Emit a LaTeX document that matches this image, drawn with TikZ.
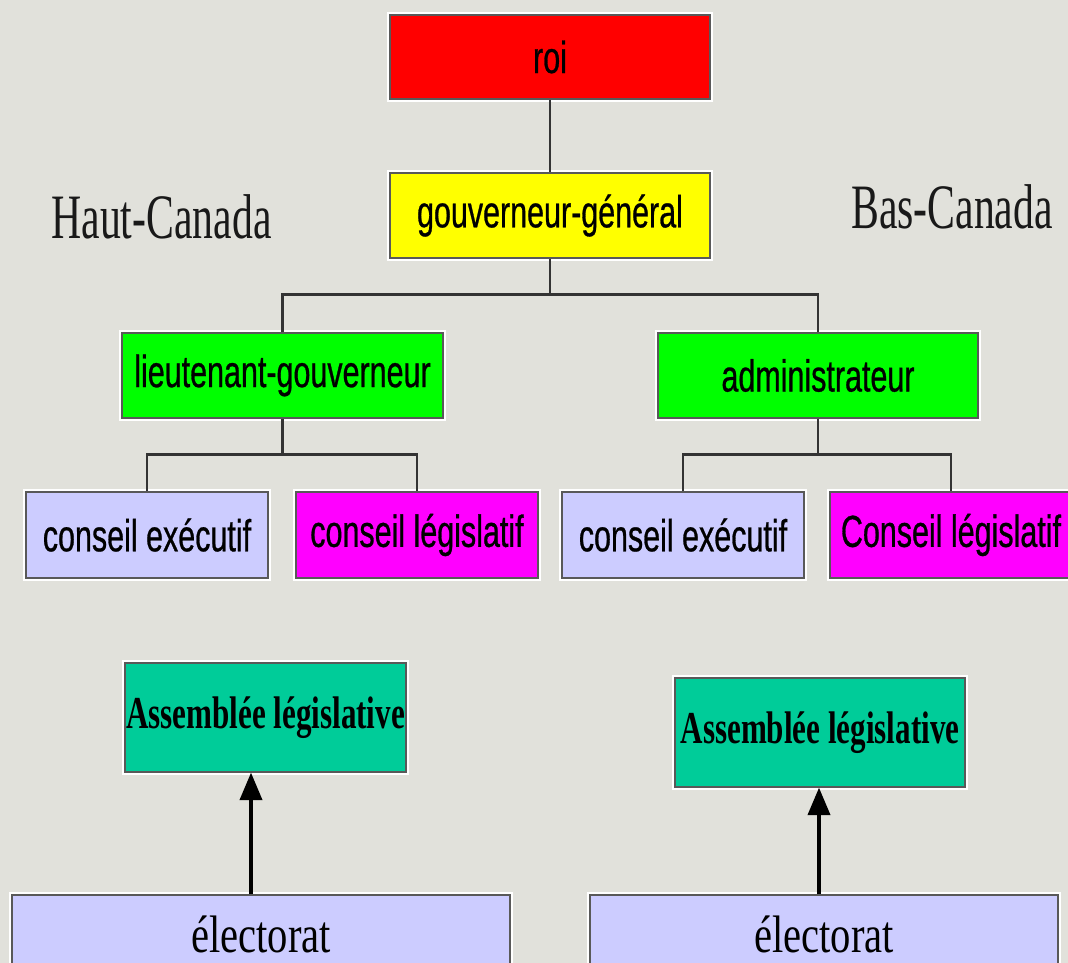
\documentclass[tikz,border=0pt]{standalone}
\usepackage{fontspec}
\usetikzlibrary{arrows.meta}
\newfontfamily\boxfont[FakeStretch=0.68, FakeBold=0.6]{Liberation Sans}
\newfontfamily\regionfont[FakeStretch=0.66]{Liberation Serif}
\newfontfamily\assfont[FakeStretch=0.68]{Liberation Serif}
\newfontfamily\elecfont[FakeStretch=0.77]{Liberation Serif}
\definecolor{bgcol}{RGB}{225,225,219}
\definecolor{roired}{RGB}{255,0,0}
\definecolor{ggyellow}{RGB}{255,255,0}
\definecolor{govgreen}{RGB}{0,255,0}
\definecolor{lavender}{RGB}{204,204,255}
\definecolor{legmagenta}{RGB}{255,0,255}
\definecolor{assteal}{RGB}{0,204,153}

\begin{document}
\begin{tikzpicture}[x=0.02cm, y=-0.02cm,
  box/.style={draw=black!65, line width=0.7pt, inner sep=0pt,
    preaction={draw=white, line width=3.5pt},
    font=\boxfont\fontsize{25.5}{30}\selectfont},
  tree/.style={draw=black!80, line width=1.5pt},
  vote/.style={line width=2.2pt, -{Triangle[length=5.5mm, width=4.4mm]}},
  region/.style={anchor=base, text=black!90, font=\regionfont\fontsize{36}{40}\selectfont}]
\fill[bgcol] (0,0) rectangle (1068,963);
\useasboundingbox (0,0) rectangle (1068,963);

\node[box, fill=roired, minimum width=6.4cm, minimum height=1.68cm] (roi) at (550,57) {roi};
\node[box, fill=ggyellow, minimum width=6.4cm, minimum height=1.7cm] (gg) at (550,215.5) {gouverneur-général};
\node[region] (haut) at (161.5,238) {Haut-Canada};
\node[region] (bas) at (952,228) {Bas-Canada};

\node[box, fill=govgreen, minimum width=6.42cm, minimum height=1.7cm] (lg) at (282.5,375.5) {lieutenant-gouverneur};
\node[box, fill=govgreen, minimum width=6.4cm, minimum height=1.7cm] (adm) at (818,375.5) {administrateur};

\node[box, fill=lavender, minimum width=4.84cm, minimum height=1.72cm] (ceH) at (147,535) {conseil exécutif};
\node[box, fill=legmagenta, minimum width=4.84cm, minimum height=1.72cm] (clH) at (417,535) {conseil législatif};
\node[box, fill=lavender, minimum width=4.84cm, minimum height=1.72cm] (ceB) at (683,535) {conseil exécutif};
\node[box, fill=legmagenta, minimum width=4.84cm, minimum height=1.72cm] (clB) at (951,535) {Conseil législatif};

\node[box, fill=assteal, minimum width=5.62cm, minimum height=2.18cm, font=\assfont\bfseries\fontsize{26}{30}\selectfont] (alH) at (265.5,717.5) {Assemblée législative};
\node[box, fill=assteal, minimum width=5.8cm, minimum height=2.18cm, font=\assfont\bfseries\fontsize{26}{30}\selectfont] (alB) at (820,732.5) {Assemblée législative};

\node[box, fill=lavender, minimum width=9.96cm, minimum height=1.56cm, font=\elecfont\fontsize{30}{34}\selectfont] (elH) at (261,934) {électorat};
\node[box, fill=lavender, minimum width=9.36cm, minimum height=1.56cm, font=\elecfont\fontsize{30}{34}\selectfont] (elB) at (824,934) {électorat};

\draw[tree] (roi) -- (gg);
\draw[tree] (lg.north) -- ++(0,-38) coordinate (busT) -| (adm.north);
\draw[tree] (gg.south) -- (gg.south |- busT);
\draw[tree] (ceH.north) -- ++(0,-37) coordinate (busH) -| (clH.north);
\draw[tree] (lg.south) -- (lg.south |- busH);
\draw[tree] (ceB.north) -- ++(0,-37) coordinate (busB) -| (clB.north);
\draw[tree] (adm.south) -- (adm.south |- busB);

\draw[vote] ([xshift=-0.2cm]elH.north) -- ([xshift=-0.2cm]elH.north |- alH.south);
\draw[vote] ([xshift=-0.1cm]elB.north) -- ([xshift=-0.1cm]elB.north |- alB.south);
\end{tikzpicture}
\end{document}
